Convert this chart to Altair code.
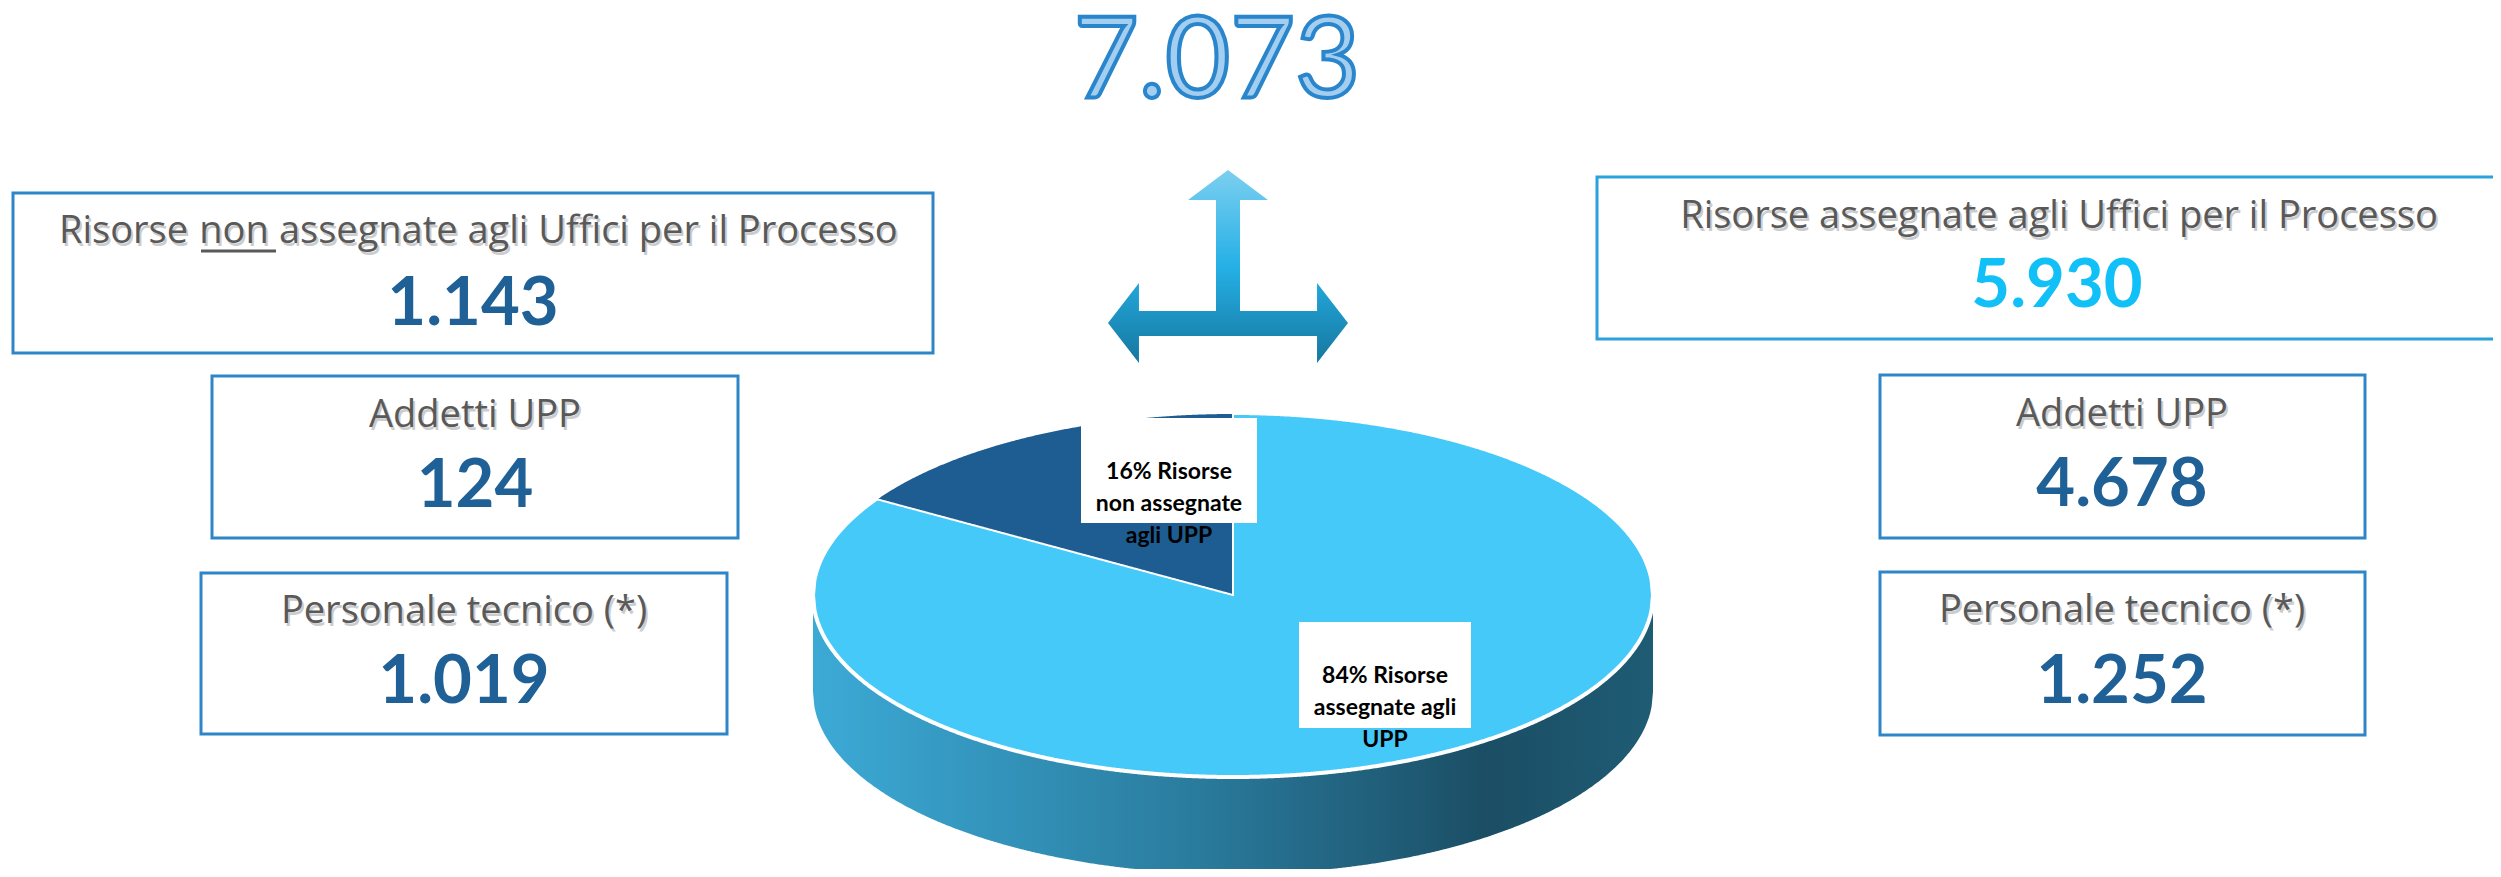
import altair as alt
import numpy as np
import pandas as pd

# ---------------- data ----------------
total = 7073
group_names = ["Risorse non assegnate agli Uffici per il Processo",
               "Risorse assegnate agli Uffici per il Processo"]
group_totals = [1143, 5930]
sub_names = ["Addetti UPP", "Personale tecnico (*)"]
non_assigned_sub = [124, 1019]
assigned_sub = [4678, 1252]
pie_labels = ["Risorse\nnon assegnate\nagli UPP", "Risorse\nassegnate agli\nUPP"]


def fmt(v):
    return f"{v:,}".replace(",", ".")


shares = [v / total for v in group_totals]
pct = [round(100 * s) for s in shares]

# ---------------- layout (page pixels) ----------------
W, H = 2485, 861
xs = alt.Scale(domain=[8, 8 + W], nice=False, zero=False)
ys = alt.Scale(domain=[8, 8 + H], nice=False, zero=False, reverse=True)
FONT = "Lato"
TFONT = "Open Sans"
TSIZE = 38
GRAY = "#595959"
NAVY = "#1f6096"
CYAN = "#12c0f8"


def X(f="x"):
    return alt.X(f"{f}:Q", scale=xs, axis=None)


def Y(f="y"):
    return alt.Y(f"{f}:Q", scale=ys, axis=None)


# pie geometry
cx, cy, rx, ry, depth = 1233, 595, 420, 182, 97
u = np.linspace(-1, 1, 601)
half = ry * np.sqrt(np.clip(1 - u * u, 0, 1))
side = pd.DataFrame({"x": cx + rx * u, "y": cy + half, "y2": cy + half + depth})
top = pd.DataFrame({"x": cx + rx * u, "y": cy - half, "y2": cy + half})
th = shares[0] * 2 * np.pi
us = np.linspace(-np.sin(th), 0, 301)
slice_df = pd.DataFrame({
    "x": cx + rx * us,
    "y": cy - ry * np.sqrt(np.clip(1 - us * us, 0, 1)),
    "y2": cy + us * ry * np.cos(th) / np.sin(th),
})

side_grad = alt.Gradient(gradient="linear", x1=0, y1=0, x2=1, y2=0, stops=[
    alt.GradientStop(offset=0, color="#3caad6"),
    alt.GradientStop(offset=0.45, color="#2a7c9e"),
    alt.GradientStop(offset=0.8, color="#1b4e65"),
    alt.GradientStop(offset=1, color="#1e5c74"),
])

side_layer = alt.Chart(side).mark_area(orient="vertical", fill=side_grad).encode(
    x=X(), y=Y(), y2="y2:Q")
top_layer = alt.Chart(top).mark_area(orient="vertical", color="#45c9f8", stroke="white",
                                     strokeWidth=4).encode(x=X(), y=Y(), y2="y2:Q")
slice_layer = alt.Chart(slice_df).mark_area(orient="vertical", color="#1d5d91", stroke="white",
                                            strokeWidth=2).encode(x=X(), y=Y(), y2="y2:Q")

# pie label boxes
lab = pd.DataFrame({
    "x1": [1081, 1299], "x2": [1257, 1471], "y1": [418, 622], "y2": [523, 728],
    "x": [1169, 1385], "y": [472, 676],
    "text": [f"{pct[0]}% {pie_labels[0]}", f"{pct[1]}% {pie_labels[1]}"],
})
lab_box = alt.Chart(lab).mark_rect(color="white").encode(
    x=X("x1"), x2="x2:Q", y=Y("y1"), y2="y2:Q")
lab_txt = alt.Chart(lab).mark_text(font=FONT, fontWeight="bold", fontSize=23, color="black",
                                   lineBreak="\n", lineHeight=32, align="center",
                                   baseline="middle").encode(x=X(), y=Y(), text="text:N")

# info boxes
boxes = pd.DataFrame({
    "x1": [13, 212, 201, 1597, 1880, 1880],
    "x2": [933, 738, 727, 2520, 2365, 2365],
    "y1": [193, 376, 573, 177, 375, 572],
    "y2": [353, 538, 734, 339, 538, 735],
    "stroke": ["#2e86c8", "#2e86c8", "#2e86c8", "#2ba2dc", "#2e86c8", "#2e86c8"],
})
box_layer = alt.Chart(boxes).mark_rect(fill="white", strokeWidth=3).encode(
    x=X("x1"), x2="x2:Q", y=Y("y1"), y2="y2:Q",
    stroke=alt.Stroke("stroke:N", scale=None))

# titles: first one split in three pieces so that "non" can be underlined
first = group_names[0].split(" ")
titles = pd.DataFrame({
    "text": [first[0], first[1], " ".join(first[2:]),
             sub_names[0], sub_names[1], group_names[1], sub_names[0], sub_names[1]],
    "x": [188, 234, 279, 475, 464, 2059, 2122, 2122],
    "y": [243, 243, 243, 427, 623, 228, 426, 622],
    "align": ["right", "center", "left", "center", "center", "center", "center", "center"],
})


def title_chart(df, align, **kw):
    return alt.Chart(df[df["align"] == align]).mark_text(
        font=TFONT, fontSize=TSIZE, align=align, baseline="alphabetic", **kw
    ).encode(x=X(), y=Y(), text="text:N")


title_layers = []
for a in ["right", "center", "left"]:
    title_layers.append(title_chart(titles, a, color="#9a9a9a", opacity=0.5, dx=2, dy=3))
    title_layers.append(title_chart(titles, a, color=GRAY))

underline = pd.DataFrame({"x": [201], "x2": [276], "y": [251]})
underline_layer = alt.Chart(underline).mark_rule(color=GRAY, strokeWidth=3).encode(
    x=X(), x2="x2:Q", y=Y())

vals = [group_totals[0], non_assigned_sub[0], non_assigned_sub[1],
        group_totals[1], assigned_sub[0], assigned_sub[1]]
values = pd.DataFrame({
    "text": [fmt(v) for v in vals],
    "x": [473, 475, 464, 2057, 2122, 2122],
    "y": [325, 507, 703, 307, 506, 703],
    "color": [NAVY, NAVY, NAVY, CYAN, NAVY, NAVY],
})
value_layer = alt.Chart(values).mark_text(font=FONT, fontWeight="bold", fontSize=67,
                                          align="center", baseline="alphabetic").encode(
    x=X(), y=Y(), text="text:N", color=alt.Color("color:N", scale=None))

# total
tot = pd.DataFrame({"text": [fmt(total)], "x": [1217], "y": [97]})
total_layer = alt.Chart(tot).mark_text(font=FONT, fontSize=112, fill="#a4cef0", stroke="#2a86cc",
                                       strokeWidth=4, align="center", baseline="alphabetic").encode(
    x=X(), y=Y(), text="text:N")

# arrow
arrow_path = ("M0,-0.804 L0.333,-0.554 L0.1,-0.554 L0.1,0.371 L0.742,0.371 L0.742,0.1375 "
              "L1,0.471 L0.742,0.804 L0.742,0.579 L-0.742,0.579 L-0.742,0.804 L-1,0.471 "
              "L-0.742,0.1375 L-0.742,0.371 L-0.1,0.371 L-0.1,-0.554 L-0.333,-0.554 Z")
arrow_grad = alt.Gradient(gradient="linear", x1=0, y1=0, x2=0, y2=1, stops=[
    alt.GradientStop(offset=0, color="#7ccff0"),
    alt.GradientStop(offset=0.5, color="#25b0e6"),
    alt.GradientStop(offset=1, color="#16779f"),
])
arrow = pd.DataFrame({"x": [1228], "y": [266.5]})
arrow_layer = alt.Chart(arrow).mark_point(shape=arrow_path, size=57600, filled=True,
                                          fill=arrow_grad, opacity=1, strokeWidth=0).encode(
    x=X(), y=Y())

chart = alt.layer(
    side_layer, top_layer, slice_layer, lab_box, lab_txt,
    box_layer, *title_layers, underline_layer, value_layer,
    total_layer, arrow_layer,
).properties(width=W, height=H, padding=0, autosize="none").configure_view(stroke=None)

chart.save("out.html", embed_options={"renderer": "svg", "actions": False})
